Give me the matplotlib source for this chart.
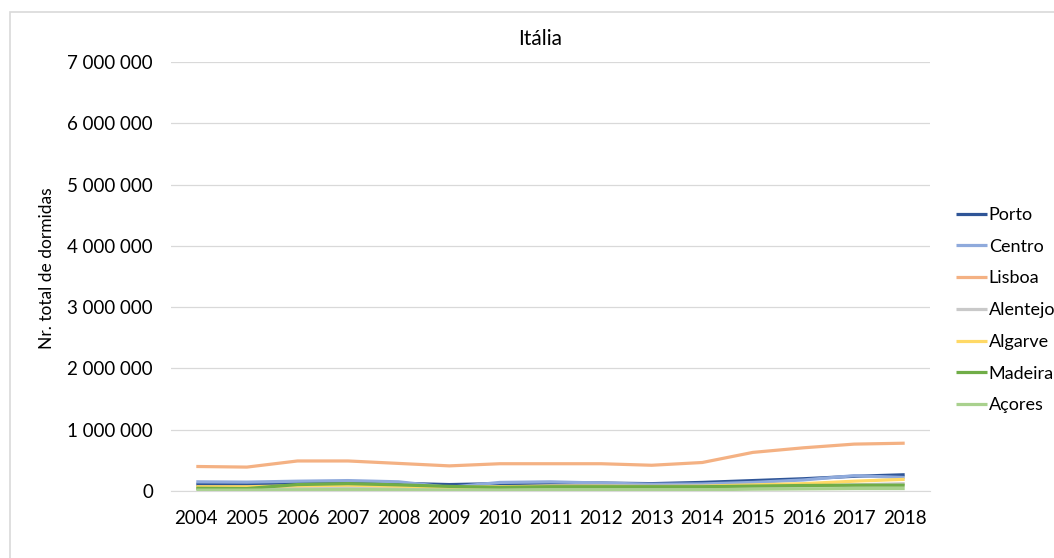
import matplotlib.pyplot as plt
from matplotlib.patches import Rectangle
from matplotlib.ticker import FuncFormatter

plt.rcParams['font.family'] = ['Lato', 'DejaVu Sans']

years = [str(y) for y in range(2004, 2019)]
porto = [110000, 105000, 130000, 150000, 125000, 105000, 120000, 130000, 130000, 120000,
         140000, 170000, 200000, 240000, 265000]
centro = [150000, 145000, 160000, 170000, 150000, 60000, 140000, 150000, 130000, 110000,
          115000, 140000, 180000, 250000, 220000]
lisboa = [400000, 390000, 490000, 490000, 450000, 410000, 445000, 445000, 445000, 420000,
          465000, 630000, 705000, 765000, 780000]
alentejo = [50000, 50000, 60000, 65000, 60000, 45000, 50000, 55000, 55000, 55000,
            60000, 70000, 80000, 100000, 120000]
algarve = [70000, 70000, 85000, 95000, 80000, 60000, 70000, 80000, 80000, 75000,
           80000, 100000, 120000, 160000, 190000]
madeira = [45000, 40000, 105000, 120000, 100000, 75000, 60000, 70000, 70000, 70000,
           70000, 80000, 90000, 95000, 95000]
acores = [15000, 15000, 20000, 25000, 20000, 15000, 15000, 20000, 20000, 20000,
          20000, 30000, 35000, 40000, 40000]

series = [
    ("Porto", porto, "#2F5597"),
    ("Centro", centro, "#8FAADC"),
    ("Lisboa", lisboa, "#F4B183"),
    ("Alentejo", alentejo, "#C9C9C9"),
    ("Algarve", algarve, "#FFD966"),
    ("Madeira", madeira, "#70AD47"),
    ("Açores", acores, "#A9D18E"),
]

fig = plt.figure(figsize=(10.54, 5.58), dpi=100)
ax = fig.add_axes([171 / 1054, 1 - 491 / 558, 759 / 1054, 429 / 558])

x = list(range(len(years)))
handles = []
for name, vals, col in series:
    ln, = ax.plot(x, vals, color=col, lw=2.3, label=name, solid_capstyle='butt')
    handles.append(ln)

ax.set_xlim(-0.5, len(years) - 0.5)
ax.set_ylim(0, 7000000)
ax.set_yticks(range(0, 7000001, 1000000))
ax.yaxis.set_major_formatter(FuncFormatter(lambda v, p: f"{int(v):,}".replace(",", " ")))
ax.set_xticks(x)
ax.set_xticklabels(years)
ax.grid(axis='y', color='#D9D9D9', lw=0.9)
ax.set_axisbelow(True)
for s in ax.spines.values():
    s.set_visible(False)
ax.spines['bottom'].set_visible(True)
ax.spines['bottom'].set_color('#D9D9D9')
ax.tick_params(axis='both', length=0, labelsize=13.5, colors='#000000')
ax.tick_params(axis='y', pad=13)
ax.tick_params(axis='x', pad=14)

fig.text(47 / 1054, 1 - 268 / 558, "Nr. total de dormidas", rotation=90,
         ha='center', va='center', fontsize=12.5)
fig.text(540 / 1054, 1 - 39 / 558, "Itália", ha='center', va='center', fontsize=15)

fig.legend(handles=handles, loc='upper left', bbox_to_anchor=(956 / 1054, 1 - 207 / 558),
           frameon=False, fontsize=13, handlelength=1.7, handletextpad=0.12,
           labelspacing=0.87, borderpad=0, borderaxespad=0)

# outer frame of the chart area
fig.patches.append(Rectangle((10 / 1054, -0.1), 1.2, 1 - 12 / 558 + 0.1,
                             transform=fig.transFigure, fill=False,
                             edgecolor='#D9D9D9', lw=1.2))

fig.savefig("out.png", dpi=100)
